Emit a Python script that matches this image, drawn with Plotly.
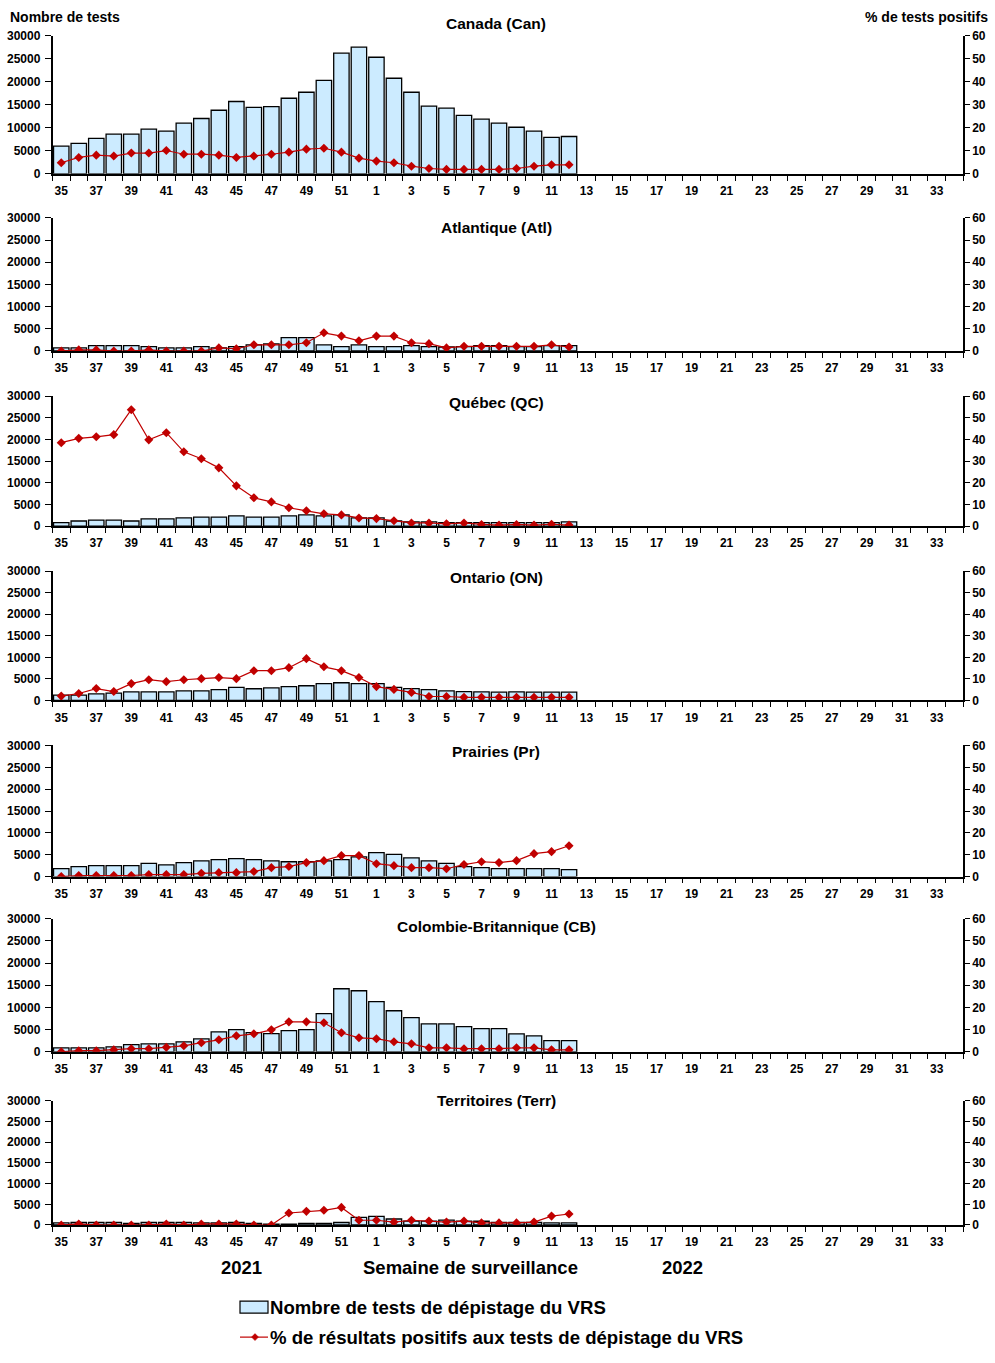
import plotly.graph_objects as go

# ---------------- data ----------------
weeks = [str(w) for w in list(range(35, 53)) + list(range(1, 35))]
tick_labels = [w if i % 2 == 0 else "" for i, w in enumerate(weeks)]

regions = ["Canada (Can)", "Atlantique (Atl)", "Québec (QC)", "Ontario (ON)",
           "Prairies (Pr)", "Colombie-Britannique (CB)", "Territoires (Terr)"]

# weeks 35..52, 1..12 (30 weeks of data)
tests_can = [6000, 6600, 7700, 8600, 8600, 9700, 9250, 11000, 12000, 13800, 15700, 14400,
             14600, 16400, 17700, 20300, 26200, 27500, 25300, 20750, 17700, 14700, 14250,
             12700, 11850, 11000, 10100, 9250, 7900, 8100]
pos_can = [4.8, 7.1, 8.1, 7.7, 9.0, 9.0, 10.1, 8.5, 8.5, 8.1, 7.1, 7.7, 8.5, 9.4, 10.7,
           11.1, 9.4, 6.8, 5.5, 4.8, 3.3, 2.3, 1.9, 1.9, 1.9, 1.9, 2.3, 3.3, 3.9, 3.9]

tests_atl = [700, 700, 1200, 1200, 1200, 1000, 700, 700, 1000, 700, 1000, 1400, 1600, 3000,
             3000, 1400, 1000, 1400, 1000, 1000, 1200, 1000, 900, 1000, 1200, 1200, 1000,
             1000, 1200, 1200]
pos_atl = [0, 0.5, 0.5, 0, 0, 0.5, 0, 0, 0, 1.4, 1.0, 2.8, 2.8, 2.8, 3.7, 8.2, 6.7, 4.6,
           6.7, 6.7, 3.7, 3.3, 1.4, 2.1, 2.1, 2.1, 2.1, 2.1, 2.8, 1.8]

tests_qc = [800, 1200, 1400, 1400, 1200, 1700, 1700, 1900, 2100, 2100, 2400, 2100, 2100,
            2400, 2600, 2400, 2600, 1900, 1900, 1200, 1000, 1000, 800, 800, 800, 800, 800,
            800, 800, 1000]
pos_qc = [38.5, 40.5, 41.2, 42.2, 53.7, 39.8, 43.1, 34.3, 31.1, 26.9, 18.6, 13.1, 11.2, 8.5,
          7.1, 5.7, 5.2, 3.8, 3.5, 2.5, 1.5, 1.5, 1.1, 1.5, 0.8, 0.5, 0.8, 0.5, 0.9, 0.5]

tests_on = [1200, 1200, 1500, 1700, 2000, 2000, 2000, 2200, 2200, 2500, 3000, 2700, 2900,
            3200, 3400, 3900, 4100, 3900, 3900, 3000, 2750, 2500, 2200, 2050, 2000, 1900,
            2000, 1900, 1900, 1900]
pos_on = [2.0, 3.2, 5.5, 4.1, 7.8, 9.6, 8.7, 9.6, 10.1, 10.6, 10.1, 13.8, 13.8, 15.2, 19.4,
          15.6, 13.8, 10.6, 6.4, 5.1, 3.7, 1.8, 1.8, 1.4, 1.4, 1.4, 1.4, 1.4, 1.4, 1.4]

tests_pr = [1800, 2300, 2500, 2500, 2500, 3000, 2700, 3200, 3600, 3900, 4100, 3900, 3600,
            3400, 3400, 3600, 3900, 4500, 5500, 5100, 4300, 3600, 3000, 2300, 2050, 1800,
            1800, 1800, 1800, 1600]
pos_pr = [0, 0.5, 0.5, 0.5, 0.5, 0.9, 0.9, 0.9, 1.5, 1.8, 1.8, 2.3, 4.1, 4.6, 6.4, 7.3,
          9.6, 9.6, 5.9, 5.0, 4.1, 4.1, 3.6, 5.5, 6.8, 6.4, 7.3, 10.5, 11.4, 14.1]

tests_cb = [900, 900, 900, 1100, 1600, 1800, 1800, 2250, 2900, 4500, 5000, 4300, 4100, 4750,
            5000, 8600, 14200, 13750, 11300, 9250, 7700, 6300, 6300, 5650, 5200, 5200, 4050,
            3600, 2500, 2500]
pos_cb = [0, 0.5, 0.5, 0.9, 1.4, 1.4, 2.0, 2.7, 4.1, 5.4, 7.2, 8.1, 9.9, 13.5, 13.5, 13.1,
          8.6, 6.3, 5.9, 4.5, 3.6, 1.8, 1.8, 1.4, 1.4, 1.4, 1.8, 1.8, 0.9, 0.9]

tests_terr = [500, 600, 600, 600, 400, 600, 600, 600, 500, 500, 600, 400, 200, 200, 400, 400,
              600, 1850, 2100, 1450, 950, 950, 1200, 950, 900, 600, 600, 600, 500, 500]
pos_terr = [0, 0.5, 0, 0, 0, 0, 0.5, 0, 0.5, 0.5, 0.5, 0, 0, 5.8, 6.6, 7.1, 8.5, 2.3, 2.3,
            1.4, 2.3, 1.9, 1.4, 1.9, 1.0, 1.0, 1.0, 1.4, 4.3, 5.3]

tests_all = [tests_can, tests_atl, tests_qc, tests_on, tests_pr, tests_cb, tests_terr]
pos_all = [pos_can, pos_atl, pos_qc, pos_on, pos_pr, pos_cb, pos_terr]

y_left_range = [0, 30000]
y_right_range = [0, 60]

# ---------------- layout helpers ----------------
W, H = 995, 1363
BAR_FILL = "#CCEBFF"
RED = "#C00000"
FONT = "Liberation Sans"

def px_x(p):
    return p / W

def px_y(p):
    # compensate for the vertical scaling observed in the rendered page
    d = (p - 7.4) / 0.9886
    return 1 - d / H

x_left, x_right = 52.5, 963.0
panels = [(36, 174), (218, 351), (396, 526), (571, 700), (745, 876), (918, 1051), (1100, 1224)]
title_y = [24, 228, 402, 577, 751, 926, 1100]

fig = go.Figure()
idx = list(range(len(weeks)))
tickfont = dict(family=FONT, size=12, color="black", weight="bold")

for k in range(7):
    n = k + 1
    xa = "x" if n == 1 else f"x{n}"
    ya = f"y{2*n-1}" if n > 1 else "y"
    yb = f"y{2*n}"
    nd = len(tests_all[k])
    fig.add_trace(go.Bar(
        x=idx[:nd], y=tests_all[k], xaxis=xa, yaxis=ya, width=0.88,
        marker=dict(color=BAR_FILL, line=dict(color="black", width=1.3)),
        showlegend=False, hoverinfo="x+y"))
    fig.add_trace(go.Scatter(
        x=idx[:nd], y=pos_all[k], xaxis=xa, yaxis=yb, mode="lines+markers",
        line=dict(color=RED, width=1.2),
        marker=dict(symbol="diamond", size=7, color=RED),
        showlegend=False))

    top, bot = panels[k]
    xname = "xaxis" if n == 1 else f"xaxis{n}"
    yname = "yaxis" if n == 1 else f"yaxis{2*n-1}"
    y2name = f"yaxis{2*n}"
    fig.layout[xname] = dict(
        domain=[px_x(x_left), px_x(x_right)], anchor=ya,
        range=[-0.5, len(weeks) - 0.5], tickmode="array",
        tickvals=idx, ticktext=tick_labels, ticks="", showgrid=False, zeroline=False,
        showline=True, linecolor="black", linewidth=1.5, tickfont=tickfont,
        ticklabelstandoff=5,
        minor=dict(tickvals=[i - 0.5 for i in range(len(weeks) + 1)], ticks="outside",
                   ticklen=5, tickcolor="black", tickwidth=1.3, showgrid=False))
    fig.layout[yname] = dict(
        domain=[px_y(bot), px_y(top)], anchor=xa, range=y_left_range, dtick=5000,
        tickformat="d",
        showgrid=False, zeroline=False, showline=True, linecolor="black", linewidth=1.5,
        ticks="outside", ticklen=6, tickcolor="black", tickwidth=1.3, tickfont=tickfont,
        ticklabelstandoff=2)
    fig.layout[y2name] = dict(
        domain=[px_y(bot), px_y(top)], anchor=xa, overlaying=ya, side="right",
        range=y_right_range, dtick=10, tickformat="d", showgrid=False, zeroline=False,
        showline=True, linecolor="black", linewidth=1.5, ticks="outside", ticklen=5,
        tickcolor="black", tickwidth=1.3, tickfont=tickfont)

annotations = []
for k in range(7):
    annotations.append(dict(text=regions[k], x=px_x(496), y=px_y(title_y[k]),
                            xanchor="center", yanchor="middle",
                            font=dict(family=FONT, size=15.5, color="black", weight="bold")))
annotations += [
    dict(text="Nombre de tests", x=px_x(8), y=px_y(17), xanchor="left", yanchor="middle",
         font=dict(family=FONT, size=14, color="black", weight="bold")),
    dict(text="% de tests positifs", x=px_x(990), y=px_y(17), xanchor="right", yanchor="middle",
         font=dict(family=FONT, size=14, color="black", weight="bold")),
    dict(text="2021", x=px_x(241), y=px_y(1266), xanchor="center", yanchor="middle",
         font=dict(family=FONT, size=18.5, color="black", weight="bold")),
    dict(text="Semaine de surveillance", x=px_x(470), y=px_y(1266), xanchor="center",
         yanchor="middle", font=dict(family=FONT, size=18.5, color="black", weight="bold")),
    dict(text="2022", x=px_x(682), y=px_y(1266), xanchor="center", yanchor="middle",
         font=dict(family=FONT, size=18.5, color="black", weight="bold")),
    dict(text="Nombre de tests de dépistage du VRS", x=px_x(268), y=px_y(1306),
         xanchor="left", yanchor="middle",
         font=dict(family=FONT, size=18.6, color="black", weight="bold")),
    dict(text="% de résultats positifs aux tests de dépistage du VRS", x=px_x(268),
         y=px_y(1336), xanchor="left", yanchor="middle",
         font=dict(family=FONT, size=18.6, color="black", weight="bold")),
]
for a in annotations:
    a["xref"] = "paper"
    a["yref"] = "paper"
    a["showarrow"] = False

# legend symbols
cx, cy = 255, 1336
shapes = [
    dict(type="rect", xref="paper", yref="paper", x0=px_x(240), x1=px_x(268),
         y0=px_y(1312), y1=px_y(1300), fillcolor=BAR_FILL, line=dict(color="black", width=1.2)),
    dict(type="line", xref="paper", yref="paper", x0=px_x(240), x1=px_x(268),
         y0=px_y(cy), y1=px_y(cy), line=dict(color=RED, width=1.2)),
    dict(type="path", xref="paper", yref="paper",
         path=f"M {px_x(cx)} {px_y(cy-3.5)} L {px_x(cx+3.5)} {px_y(cy)} L {px_x(cx)} {px_y(cy+3.5)} L {px_x(cx-3.5)} {px_y(cy)} Z",
         fillcolor=RED, line=dict(color=RED, width=0.5)),
]

fig.update_layout(width=W, height=H, margin=dict(l=0, r=0, t=0, b=0),
                  paper_bgcolor="white", plot_bgcolor="white", bargap=0.1,
                  annotations=annotations, shapes=shapes, showlegend=False)

fig.write_html("out.html", config={"displayModeBar": False},
               post_script="document.body.style.margin='0';")
